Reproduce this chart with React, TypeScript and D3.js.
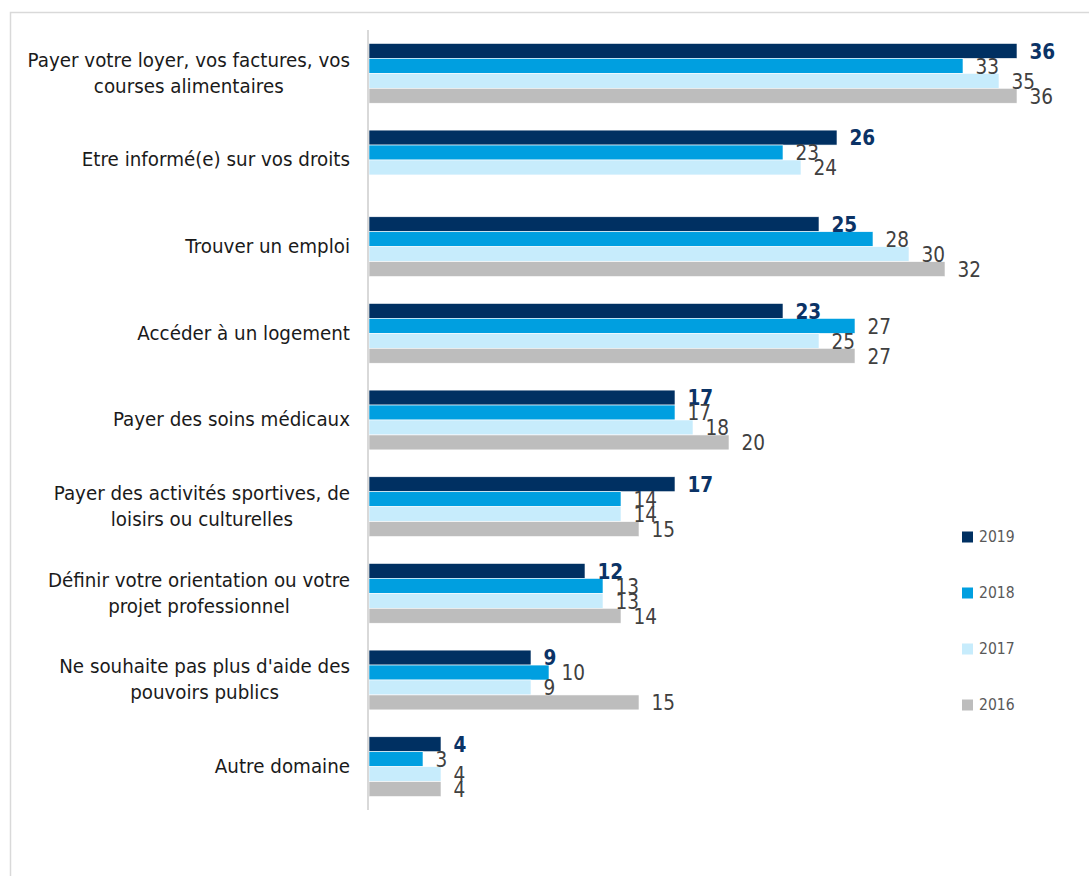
import React, { useEffect, useRef } from "react";
import * as d3 from "d3";

const categories: string[][] = [
  ["Payer votre loyer, vos factures, vos", "courses alimentaires"],
  ["Etre informé(e) sur vos droits"],
  ["Trouver un emploi"],
  ["Accéder à un logement"],
  ["Payer des soins médicaux"],
  ["Payer des activités sportives, de", "loisirs ou culturelles"],
  ["Définir votre orientation ou votre", "projet professionnel"],
  ["Ne souhaite pas plus d'aide des", "pouvoirs publics"],
  ["Autre domaine"],
];

const years = ["2019", "2018", "2017", "2016"];
const v2019 = [36, 26, 25, 23, 17, 17, 12, 9, 4];
const v2018 = [33, 23, 28, 27, 17, 14, 13, 10, 3];
const v2017 = [35, 24, 30, 25, 18, 14, 13, 9, 4];
const v2016: (number | null)[] = [36, null, 32, 27, 20, 15, 14, 15, 4];

const colors = ["#003062", "#009FE0", "#C7ECFC", "#BDBDBD"];
const FONT = "'DejaVu Sans', sans-serif";

export default function App() {
  const ref = useRef<SVGSVGElement | null>(null);

  useEffect(() => {
    const svg = d3.select(ref.current);
    svg.selectAll("*").remove();
    const W = 1089, H = 876;
    const x0 = 369;
    const x = d3.scaleLinear().domain([0, 36]).range([x0, x0 + 648]);
    const y = d3
      .scaleBand<number>()
      .domain(d3.range(categories.length))
      .range([30, 810])
      .paddingInner(0.31)
      .paddingOuter(0.155);
    const series = [v2019, v2018, v2017, v2016];
    const inner = d3.scaleBand<number>().domain([0, 1, 2, 3]).range([0, y.bandwidth()]);

    // frame
    svg.append("rect").attr("x", 10.5).attr("y", 12.5).attr("width", W + 20).attr("height", H + 20)
      .attr("fill", "none").attr("stroke", "#D9D9D9").attr("stroke-width", 1.5);

    // bars
    series.forEach((vals, si) => {
      vals.forEach((v, ci) => {
        if (v === null) return;
        const top = (y(ci) as number) + (inner(si) as number);
        svg.append("rect")
          .attr("x", x(0)).attr("y", top)
          .attr("width", x(v) - x(0)).attr("height", inner.bandwidth())
          .attr("fill", colors[si]).attr("stroke", "#ffffff").attr("stroke-width", 0.6);
      });
    });
    series.forEach((vals, si) => {
      vals.forEach((v, ci) => {
        if (v === null) return;
        const top = (y(ci) as number) + (inner(si) as number);
        const ty = top + inner.bandwidth() / 2 + 2;
        const tx = x(v) + 12.5;
        svg.append("text")
          .attr("transform", `translate(${tx},${ty}) scale(1,1.12)`)
          .attr("dominant-baseline", "middle")
          .attr("font-family", FONT)
          .attr("font-size", 18.5)
          .attr("font-weight", si === 0 ? "bold" : "normal")
          .attr("fill", si === 0 ? "#0B3366" : "#404040")
          .text(String(v));
      });
    });

    // axis line
    svg.append("line").attr("x1", x0 - 1).attr("x2", x0 - 1).attr("y1", 30).attr("y2", 810)
      .attr("stroke", "#D9D9D9").attr("stroke-width", 2);

    // category labels
    categories.forEach((lines, ci) => {
      const cy = (y(ci) as number) + y.bandwidth() / 2;
      const lh = 26;
      const g = svg.append("g");
      const texts = lines.map((ln) =>
        g.append("text")
          .attr("dominant-baseline", "middle")
          .attr("text-anchor", "middle")
          .attr("font-family", FONT)
          .attr("font-size", 18.3)
          .attr("fill", "#1A1A1A")
          .text(ln)
      );
      const maxW = d3.max(texts, (t) => (t.node() as SVGTextElement).getComputedTextLength()) || 0;
      texts.forEach((t, li) => {
        const ty = cy + 0.5 + (li - (lines.length - 1) / 2) * lh;
        t.attr("transform", `translate(${350 - maxW / 2},${ty}) scale(1,1.1)`);
      });
    });

    // legend
    years.forEach((yr, i) => {
      const cy = 537 + i * 56;
      svg.append("rect").attr("x", 962).attr("y", cy - 5.5).attr("width", 11).attr("height", 11)
        .attr("fill", colors[i]);
      svg.append("text")
        .attr("transform", `translate(979,${cy + 1}) scale(1,1.12)`)
        .attr("dominant-baseline", "middle")
        .attr("font-family", FONT).attr("font-size", 14).attr("fill", "#595959").text(yr);
    });
  }, []);

  return (
    <svg
      ref={ref}
      width={1089}
      height={876}
      style={{ position: "absolute", left: 0, top: 0, background: "#fff" }}
    />
  );
}
